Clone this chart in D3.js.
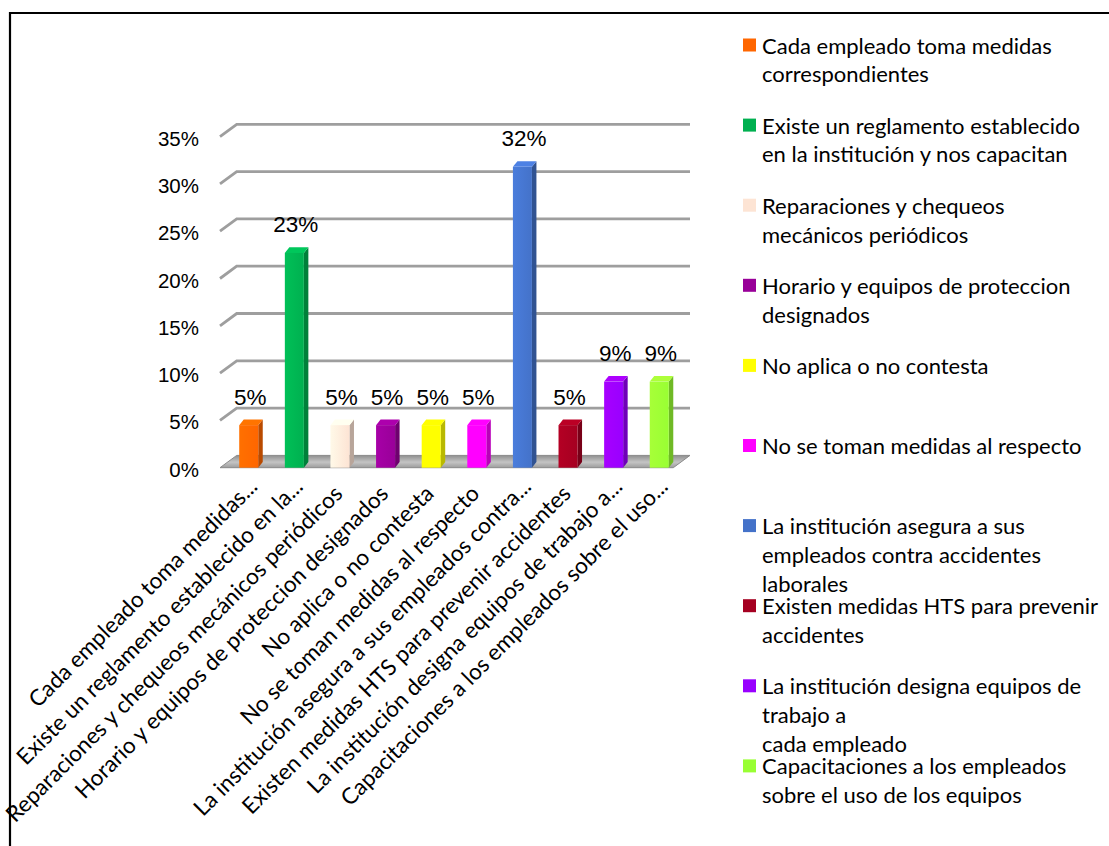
<!DOCTYPE html>
<html>
<head>
<meta charset="utf-8">
<script src="https://cdn.jsdelivr.net/npm/d3@7"></script>
<style>
  html, body { margin: 0; padding: 0; background: #fff; }
  svg { display: block; }
</style>
</head>
<body>
<svg id="chart" width="1109" height="846"></svg>
<script>
// Survey answers: share of respondents per safety measure
const categories = [
  "Cada empleado toma medidas correspondientes",
  "Existe un reglamento establecido en la institución y nos capacitan",
  "Reparaciones y chequeos mecánicos periódicos",
  "Horario y equipos de proteccion designados",
  "No aplica o no contesta",
  "No se toman medidas al respecto",
  "La institución asegura a sus empleados contra accidentes laborales",
  "Existen medidas HTS para prevenir accidentes",
  "La institución designa equipos de trabajo a cada empleado",
  "Capacitaciones a los empleados sobre el uso de los equipos"
];
const axisLabels = [
  "Cada empleado toma medidas...",
  "Existe un reglamento establecido en la...",
  "Reparaciones y chequeos mecánicos periódicos",
  "Horario y equipos de proteccion designados",
  "No aplica o no contesta",
  "No se toman medidas al respecto",
  "La institución asegura a sus empleados contra...",
  "Existen medidas HTS para prevenir accidentes",
  "La institución designa equipos de trabajo a...",
  "Capacitaciones a los empleados sobre el uso..."
];
const legendLines = [
  ["Cada empleado toma medidas", "correspondientes"],
  ["Existe un reglamento establecido", "en la institución y nos capacitan"],
  ["Reparaciones y chequeos", "mecánicos periódicos"],
  ["Horario y equipos de proteccion", "designados"],
  ["No aplica o no contesta"],
  ["No se toman medidas al respecto"],
  ["La institución asegura a sus", "empleados contra accidentes", "laborales"],
  ["Existen medidas HTS para prevenir", "accidentes"],
  ["La institución designa equipos de", "trabajo a", "cada empleado"],
  ["Capacitaciones a los empleados", "sobre el uso de los equipos"]
];
const values = [4.5, 22.7, 4.5, 4.5, 4.5, 4.5, 31.8, 4.5, 9.1, 9.1];
const colors = ["#FF6600", "#00B050", "#FDE4D4", "#990099", "#FFFF00",
                "#FF00FF", "#4472C9", "#A50021", "#9900FF", "#99FF33"];
const yTicks = [0, 5, 10, 15, 20, 25, 30, 35];

const svg = d3.select("#chart");

// frame
svg.append("path")
  .attr("d", "M10,846 V13 H1109")
  .attr("fill", "none").attr("stroke", "#000").attr("stroke-width", 2.2);

// 3D geometry: back wall scale plus a floor depth offset
const depth = { dx: 16.7, dy: 12.3 };
const y = d3.scaleLinear().domain([0, 35]).range([455.4, 124.3]);
const backX0 = 236.7, backX1 = 690;
const x = d3.scaleBand().domain(categories).range([226, 682])
  .paddingInner(0.583).paddingOuter(0.29);
const barDepth = { dx: 4.5, dy: -5.6 };

const defs = svg.append("defs");
const soft = defs.append("filter").attr("id", "soft")
  .attr("x", "-5%").attr("y", "-50%").attr("width", "110%").attr("height", "200%");
soft.append("feGaussianBlur").attr("stdDeviation", 0.6);

const floorGrad = defs.append("linearGradient").attr("id", "floorGrad")
  .attr("x1", 0).attr("y1", 0).attr("x2", 0).attr("y2", 1);
floorGrad.append("stop").attr("offset", "0%").attr("stop-color", "#8f8f8f");
floorGrad.append("stop").attr("offset", "55%").attr("stop-color", "#c4c4c4");
floorGrad.append("stop").attr("offset", "100%").attr("stop-color", "#9d9d9d");

// floor
const y0 = y(0);
svg.append("path")
  .attr("d", `M${backX0 - depth.dx},${y0 + depth.dy} L${backX0},${y0} L${backX1},${y0} L${backX1 - depth.dx},${y0 + depth.dy} Z`)
  .attr("fill", "url(#floorGrad)").attr("stroke", "#8a8a8a").attr("stroke-width", 1)
  .attr("filter", "url(#soft)");

// gridlines on the back wall with their side-wall diagonals
const grid = svg.append("g").attr("fill", "none").attr("stroke", "#9e9e9e")
  .attr("stroke-width", 2.8).attr("filter", "url(#soft)");
yTicks.filter(t => t > 0).forEach(t => {
  grid.append("path")
    .attr("d", `M${backX0 - depth.dx},${y(t) + depth.dy} L${backX0},${y(t)} L${backX1},${y(t)}`);
});

// y-axis labels
svg.append("g").selectAll("text").data(yTicks).join("text")
  .attr("x", 199)
  .attr("y", d => y(d) + depth.dy + 1.5)
  .attr("text-anchor", "end")
  .attr("dominant-baseline", "central")
  .attr("font-family", "Liberation Sans, Arial, sans-serif")
  .attr("font-size", 20.5)
  .attr("fill", "#000")
  .text(d => d + "%");

// 3D columns
const bars = svg.append("g");
categories.forEach((c, i) => {
  const col = d3.color(colors[i]);
  const x0 = x(c), w = x.bandwidth();
  const yt = y(values[i]) + depth.dy;
  const yb = y(0) + depth.dy;
  const g = bars.append("g");
  const gid = "bar" + i;
  const grad = defs.append("linearGradient").attr("id", gid)
    .attr("x1", 0).attr("y1", 0).attr("x2", 1).attr("y2", 0);
  grad.append("stop").attr("offset", "0%").attr("stop-color", col.brighter(0.25).formatHex());
  grad.append("stop").attr("offset", "100%").attr("stop-color", col.formatHex());
  // side face
  g.append("path")
    .attr("d", `M${x0 + w},${yt} L${x0 + w + barDepth.dx},${yt + barDepth.dy} L${x0 + w + barDepth.dx},${yb + barDepth.dy} L${x0 + w},${yb} Z`)
    .attr("fill", col.darker(0.9).formatHex());
  // top face
  g.append("path")
    .attr("d", `M${x0},${yt} L${x0 + barDepth.dx},${yt + barDepth.dy} L${x0 + w + barDepth.dx},${yt + barDepth.dy} L${x0 + w},${yt} Z`)
    .attr("fill", col.brighter(0.35).formatHex());
  // front face
  g.append("rect")
    .attr("x", x0).attr("y", yt).attr("width", w).attr("height", yb - yt)
    .attr("fill", `url(#${gid})`);
});

// value labels
svg.append("g").selectAll("text").data(categories).join("text")
  .attr("x", d => x(d) + x.bandwidth() / 2 + 1.5)
  .attr("y", (d, i) => y(values[i]) + depth.dy - 28)
  .attr("text-anchor", "middle")
  .attr("dominant-baseline", "central")
  .attr("font-family", "Liberation Sans, Arial, sans-serif")
  .attr("font-size", 22.5)
  .attr("fill", "#000")
  .text((d, i) => Math.round(values[i]) + "%");

// rotated category labels; shortened labels sit a little higher on the diagonal
svg.append("g").selectAll("text").data(categories).join("text")
  .attr("transform", (d, i) => {
    const cut = axisLabels[i].endsWith("...");
    const cx = x(d) + x.bandwidth() / 2 + (cut ? 10 : 4);
    const cy = cut ? 488 : 495;
    return `translate(${cx},${cy}) rotate(-45)`;
  })
  .attr("text-anchor", "end")
  .attr("font-family", "Lato, sans-serif")
  .attr("font-size", 22.5)
  .attr("fill", "#000")
  .text((d, i) => axisLabels[i]);

// legend
const legend = svg.append("g");
legendLines.forEach((lines, i) => {
  const cy = 45 + 80.1 * i;
  legend.append("rect")
    .attr("x", 743).attr("y", cy - 6.5).attr("width", 13).attr("height", 13)
    .attr("fill", colors[i]);
  const t = legend.append("text")
    .attr("font-family", "Lato, sans-serif")
    .attr("font-size", 22)
    .attr("fill", "#000");
  lines.forEach((ln, j) => {
    t.append("tspan").attr("x", 762).attr("y", cy + j * 28.8)
      .attr("dominant-baseline", "central").text(ln);
  });
});
</script>
</body>
</html>
